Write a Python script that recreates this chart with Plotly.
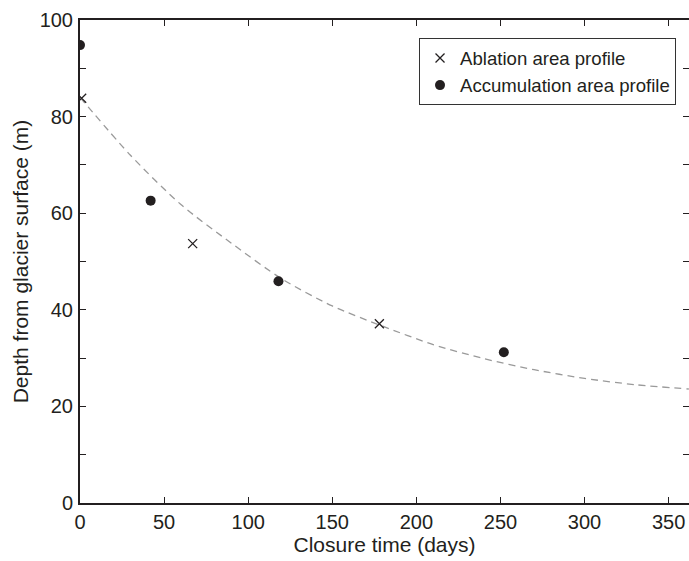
import plotly.graph_objects as go

# Data
ablation_t = [1, 67, 178]
ablation_depth = [83.8, 53.7, 37.1]
accum_t = [0, 42, 118, 252]
accum_depth = [94.8, 62.6, 45.9, 31.2]
fit_t = [0, 30, 60, 90, 120, 150, 180, 210, 240, 270, 300, 330, 362]
fit_depth = [84.0, 72.0, 61.8, 53.8, 46.4, 40.8, 36.6, 32.8, 29.9, 27.6, 25.8, 24.5, 23.6]

x_ticks = [0, 50, 100, 150, 200, 250, 300, 350]
y_ticks = [0, 20, 40, 60, 80, 100]

ink = "#231f20"
font_family = "Liberation Sans, Arial, sans-serif"

fig = go.Figure()
fig.add_trace(go.Scatter(
    x=fit_t, y=fit_depth, mode="lines", line=dict(color="#9a9a9a", width=1.3, dash="7px,5px", shape="spline", smoothing=0.8),
    showlegend=False, hoverinfo="skip"))
fig.add_trace(go.Scatter(
    x=ablation_t, y=ablation_depth, mode="markers", name="Ablation area profile",
    marker=dict(symbol="x-thin", size=9, line=dict(color=ink, width=1.3), color=ink)))
fig.add_trace(go.Scatter(
    x=accum_t, y=accum_depth, mode="markers", name="Accumulation area profile",
    marker=dict(symbol="circle", size=10, color=ink)))
# invisible trace for right-side mirrored ticks
fig.add_trace(go.Scatter(x=[None], y=[None], yaxis="y2", showlegend=False, hoverinfo="skip"))

fig.update_layout(
    width=689, height=561,
    margin=dict(l=80, r=0, t=20, b=58),
    plot_bgcolor="white", paper_bgcolor="white",
    font=dict(family=font_family, size=20, color=ink),
    xaxis=dict(
        range=[0, 362.1], tickvals=x_ticks, ticks="inside", ticklen=6, tickwidth=1, tickcolor=ink,
        showline=True, linewidth=2, linecolor=ink, mirror="ticks", showgrid=False, zeroline=False,
        automargin=False,
        title=dict(text="Closure time (days)", standoff=3, font=dict(size=21)),
        tickfont=dict(size=20)),
    yaxis=dict(
        range=[0, 100], tickvals=y_ticks, ticks="inside", ticklen=6, tickwidth=1, tickcolor=ink,
        minor=dict(dtick=10, ticks="inside", ticklen=6, tickwidth=1, tickcolor=ink, showgrid=False),
        showline=True, linewidth=2, linecolor=ink, showgrid=False, zeroline=False,
        automargin=False, ticklabelstandoff=1,
        title=dict(text="Depth from glacier surface (m)", standoff=5, font=dict(size=21)),
        tickfont=dict(size=20)),
    yaxis2=dict(
        overlaying="y", side="right", range=[0, 100], tickvals=y_ticks, ticks="inside", ticklen=6,
        tickwidth=1, tickcolor=ink, showticklabels=False, showline=False, showgrid=False, zeroline=False,
        automargin=False,
        minor=dict(dtick=10, ticks="inside", ticklen=6, tickwidth=1, tickcolor=ink, showgrid=False)),
    legend=dict(
        x=0.9787, xanchor="right", y=0.962, yanchor="top",
        bordercolor="#333333", borderwidth=1, bgcolor="white",
        font=dict(size=18.6, color=ink), tracegroupgap=0, itemsizing="trace"),
    showlegend=True,
)

# Remove the default page margin so the 689x561 figure fills the window exactly.
fig.write_html(
    "out.html",
    config={"displayModeBar": False},
    post_script="document.body.style.margin='0';document.body.style.overflow='hidden';",
)
